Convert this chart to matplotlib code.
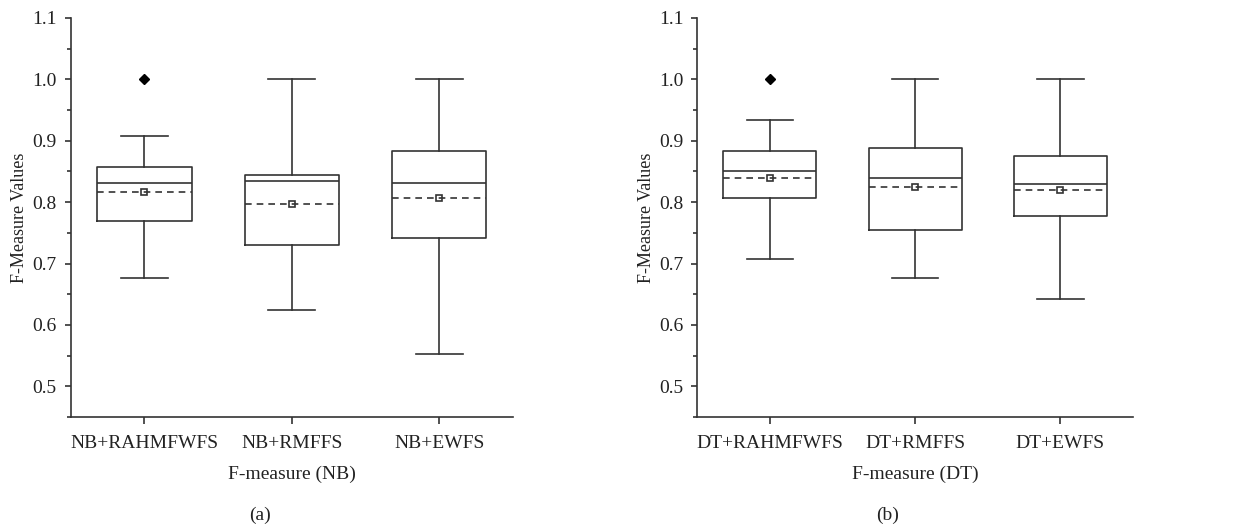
import matplotlib
matplotlib.use("Agg")
import matplotlib.pyplot as plt
from matplotlib.ticker import MultipleLocator

plt.rcParams['font.family'] = ['Liberation Serif', 'DejaVu Serif']

# box summary values
nb_labels = ['NB+RAHMFWFS', 'NB+RMFFS', 'NB+EWFS']
nb_low = [0.677, 0.625, 0.553]
nb_q1 = [0.769, 0.731, 0.742]
nb_med = [0.832, 0.834, 0.832]
nb_q3 = [0.858, 0.845, 0.884]
nb_high = [0.907, 1.0, 1.0]
nb_mean = [0.817, 0.797, 0.807]
nb_fliers = [[1.0], [], []]

dt_labels = ['DT+RAHMFWFS', 'DT+RMFFS', 'DT+EWFS']
dt_low = [0.707, 0.676, 0.642]
dt_q1 = [0.807, 0.755, 0.777]
dt_med = [0.850, 0.839, 0.829]
dt_q3 = [0.883, 0.888, 0.876]
dt_high = [0.934, 1.0, 1.0]
dt_mean = [0.840, 0.825, 0.820]
dt_fliers = [[1.0], [], []]

col = '#333333'

fig = plt.figure(figsize=(12.33, 5.30), dpi=100)
W, H = 1233, 530


def panel(rect, labels, low, q1, med, q3, high, mean, fliers, xlabel, tag, tagx):
    ax = fig.add_axes(rect)
    stats = []
    for i in range(len(labels)):
        stats.append(dict(label=labels[i], whislo=low[i], q1=q1[i], med=med[i],
                          q3=q3[i], whishi=high[i], mean=mean[i], fliers=fliers[i]))
    pos = [1, 2, 3]
    ax.bxp(stats, positions=pos, widths=0.64, showmeans=True, meanline=True,
           boxprops=dict(color=col, lw=1.2),
           whiskerprops=dict(color=col, lw=1.2),
           capprops=dict(color=col, lw=1.2),
           capwidths=0.32,
           medianprops=dict(color=col, lw=1.2),
           meanprops=dict(color=col, lw=1.2, ls=(0, (4, 3))),
           flierprops=dict(marker='D', markersize=5, markerfacecolor='black',
                           markeredgecolor='black'))
    ax.plot(pos, mean, ls='none', marker='s', ms=4.5, mfc='white', mec=col, mew=1.2)
    ax.set_xlim(0.5, 3.5)
    ax.set_ylim(0.45, 1.1)
    ax.yaxis.set_major_locator(MultipleLocator(0.1))
    ax.yaxis.set_minor_locator(MultipleLocator(0.05))
    ax.yaxis.set_major_formatter(plt.FuncFormatter(lambda v, p: '%.1f' % v))
    ax.set_xticks(pos)
    ax.set_xticklabels(labels)
    for s in ['top', 'right']:
        ax.spines[s].set_visible(False)
    for s in ['left', 'bottom']:
        ax.spines[s].set_color(col)
        ax.spines[s].set_linewidth(1.2)
    ax.tick_params(axis='both', which='both', color=col, width=1.2, labelcolor='#222222',
                   labelsize=14)
    ax.tick_params(axis='y', which='major', length=4, pad=6)
    ax.tick_params(axis='x', which='major', length=5, pad=8)
    ax.tick_params(axis='y', which='minor', length=3)
    ax.set_ylabel('F-Measure Values', fontsize=13, color='#222222', labelpad=3)
    ax.set_xlabel(xlabel, fontsize=14, color='#222222', labelpad=10)
    fig.text(tagx / W, 1 - 515 / H, tag, ha='center', va='center', fontsize=14,
             color='#222222')
    return ax


panel([70.7 / W, 113 / H, 442.3 / W, 399 / H], nb_labels, nb_low, nb_q1, nb_med,
      nb_q3, nb_high, nb_mean, nb_fliers, 'F-measure (NB)', '(a)', 260)
panel([697.3 / W, 113 / H, 435.7 / W, 399 / H], dt_labels, dt_low, dt_q1, dt_med,
      dt_q3, dt_high, dt_mean, dt_fliers, 'F-measure (DT)', '(b)', 888)

fig.savefig('out.png', dpi=100)
